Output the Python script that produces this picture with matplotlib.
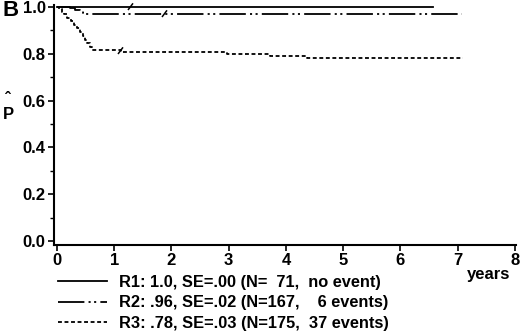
import matplotlib
matplotlib.use("Agg")
import matplotlib.pyplot as plt
from matplotlib.path import Path
from matplotlib.lines import Line2D

plt.rcParams['font.family'] = ['Liberation Sans', 'DejaVu Sans']
plt.rcParams['font.weight'] = 'bold'
plt.rcParams['lines.scale_dashes'] = False

# ---- data ----
r1_t = [0.0, 6.57]
r1_s = [1.0, 1.0]
r2_t = [0.0, 0.22, 0.32, 0.40, 0.46, 0.50, 7.08]
r2_s = [1.0, 0.994, 0.988, 0.982, 0.976, 0.970, 0.970]
r3_t = [0.0, 0.03, 0.08, 0.13, 0.18, 0.24, 0.30, 0.35, 0.40, 0.45, 0.49, 0.53,
        0.57, 0.62, 1.12, 2.97, 3.72, 4.37, 7.10]
r3_s = [1.0, 0.99, 0.98, 0.97, 0.955, 0.94, 0.925, 0.91, 0.895, 0.875, 0.86,
        0.845, 0.83, 0.815, 0.808, 0.80, 0.792, 0.78, 0.78]
censor_t = [1.28, 1.87, 1.10]
censor_s = [1.0, 0.970, 0.812]
labels = ["R1: 1.0, SE=.00 (N=  71,  no event)",
          "R2: .96, SE=.02 (N=167,    6 events)",
          "R3: .78, SE=.03 (N=175,  37 events)"]
xticks = [0, 1, 2, 3, 4, 5, 6, 7, 8]
yticks = [0.0, 0.2, 0.4, 0.6, 0.8, 1.0]

W, H = 520, 332
fig = plt.figure(figsize=(W / 100, H / 100), dpi=100)
ax = fig.add_axes([54 / W, 1 - 245 / H, (516 - 54) / W, (245 - 5) / H])

lw = 1.3
st1 = dict(color='black', lw=lw, linestyle='-')
st2 = dict(color='black', lw=lw, linestyle=(0, (19, 3, 1.5, 2.5, 1.5, 3)))
st3 = dict(color='black', lw=lw, linestyle=(0, (2.8, 1.9)))

ax.step(r1_t, r1_s, where='post', **st1)
ax.step(r2_t, r2_s, where='post', **st2)
ax.step(r3_t, r3_s, where='post', **st3)

slash = Path([(-0.6, -0.6), (0.6, 1.0)], [Path.MOVETO, Path.LINETO])
ax.plot(censor_t, censor_s, linestyle='none', marker=slash, markersize=6,
        markeredgewidth=1.1, color='black', clip_on=False)

ax.set_xlim(-0.052, 8.02)
ax.set_ylim(-0.017, 1.0085)
ax.set_xticks(xticks)
ax.set_xticklabels([str(v) for v in xticks])
ax.set_yticks(yticks)
ax.set_yticklabels([f"{v:.1f}" for v in yticks])
ax.set_yticks([0.1, 0.3, 0.5, 0.7, 0.9], minor=True)
for s in ['top', 'right']:
    ax.spines[s].set_visible(False)
for s in ['left', 'bottom']:
    ax.spines[s].set_linewidth(1.5)
ax.tick_params(axis='both', which='major', direction='out', length=4, width=1.2,
               labelsize=12, pad=2)
ax.tick_params(axis='y', which='minor', direction='out', length=3, width=1.0)
ax.tick_params(axis='x', pad=2)
for lab in ax.get_xticklabels() + ax.get_yticklabels():
    lab.set_fontweight('bold')

fig.text(2 / W, 1 - 10 / H, "B", fontsize=16, fontweight='bold', va='center', ha='left')
fig.text(8 / W, 1 - 114 / H, "P", fontsize=12, fontweight='bold', va='center', ha='center')
fig.text(8 / W, 1 - 100 / H, "ˆ", fontsize=12, fontweight='bold', va='center', ha='center')
fig.text(489 / W, 1 - 274 / H, "years", fontsize=12, fontweight='bold', va='center', ha='center')

handles = [Line2D([], [], **st1), Line2D([], [], **st2), Line2D([], [], **st3)]
leg = fig.legend(handles, labels, loc='upper left',
                 bbox_to_anchor=(58 / W, 1 - 275 / H), frameon=False,
                 prop={'weight': 'bold', 'size': 11.8}, handlelength=3.0,
                 handletextpad=0.75, labelspacing=0.33, borderpad=0, borderaxespad=0)

fig.savefig("out.png", dpi=100)
